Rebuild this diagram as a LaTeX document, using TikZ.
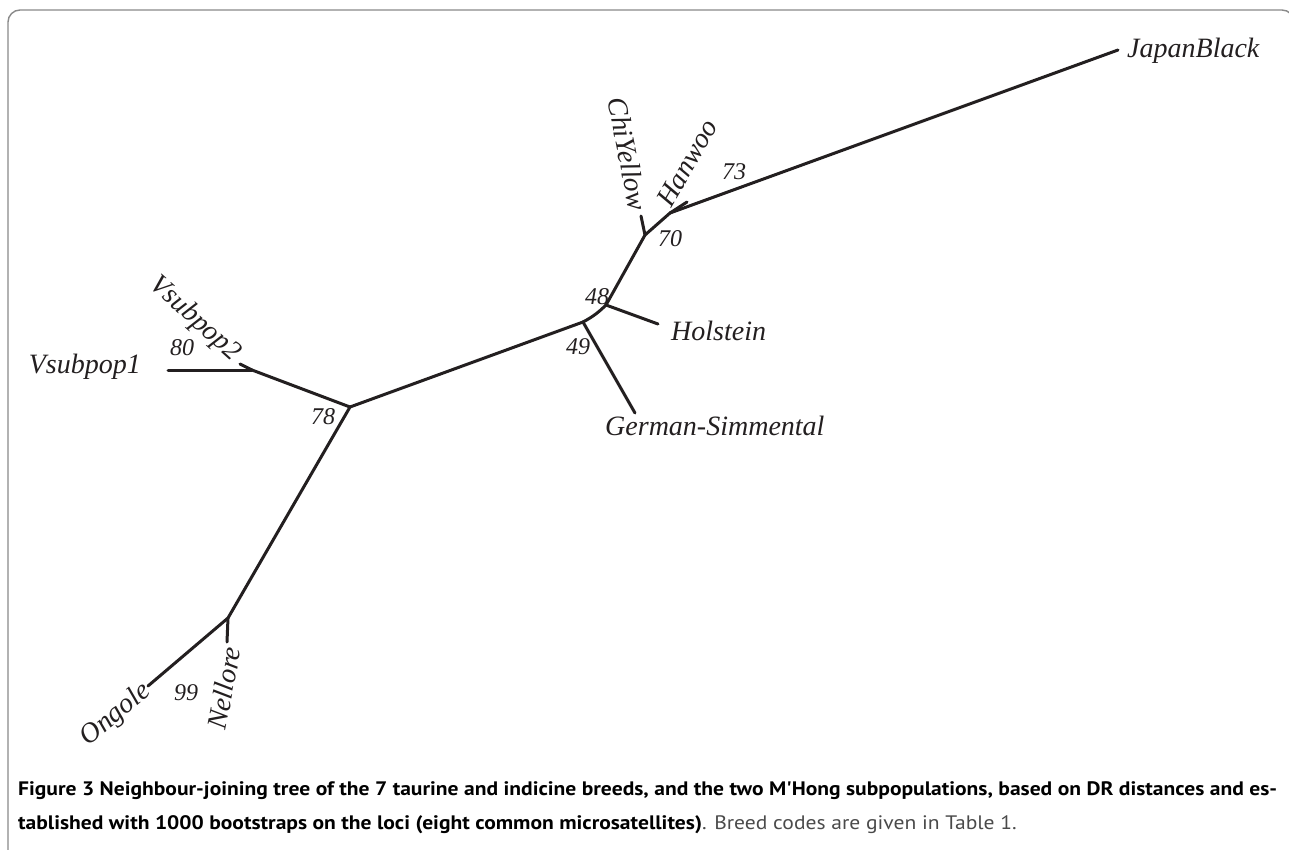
\documentclass[tikz,border=0pt]{standalone}
\usepackage{fontspec}
\usepackage{graphicx}
\setmainfont{Liberation Serif}
\newfontfamily\capfont{PT Sans}
\definecolor{ink}{HTML}{231F20}
\definecolor{framegray}{HTML}{8A8A8A}
\definecolor{capgray}{HTML}{4A4A4A}
\newlength\capw
\newcommand\captionlineone{Figure 3 Neighbour-joining tree of the 7 taurine and indicine breeds, and the two M'Hong subpopulations, based on DR distances and es-}
\begin{document}
\begin{tikzpicture}[x=1pt,y=-1pt,
  branch/.style={draw=ink,line width=3pt,line cap=round,line join=round},
  taxon/.style={inner sep=0pt,text=ink,font=\fontsize{28}{31}\selectfont\itshape},
  boot/.style={inner sep=0pt,text=ink,font=\fontsize{24}{26}\selectfont\itshape},
  capline/.style={inner sep=0pt,anchor=base west,font=\capfont\fontsize{19.5}{22}\selectfont}]
\useasboundingbox (0,0) rectangle (1289,849);
\fill[white] (0,0) rectangle (1289,849);
% frame
\draw[framegray,line width=1.4pt,rounded corners=12pt] (8,860) -- (8,10) -- (1294,10) -- (1294,860);

% internal nodes
\coordinate (H) at (670,213);
\coordinate (C) at (645,235);
\coordinate (D) at (606,305);
\coordinate (E) at (583,322);
\coordinate (F) at (350,407);
\coordinate (G) at (252,370);
\coordinate (I) at (228,618);
% leaf ends
\coordinate (jb) at (1118,50);
\coordinate (hw) at (687,202);
\coordinate (cy) at (641,216);
\coordinate (ho) at (658,324);
\coordinate (gs) at (635,413);
\coordinate (v1) at (168,370);
\coordinate (v2) at (240,364);
\coordinate (ne) at (227,642);
\coordinate (on) at (148,686);

\draw[branch] (H) -- (jb);
\draw[branch] (H) -- (hw);
\draw[branch] (H) -- (C);
\draw[branch] (C) -- (cy);
\draw[branch] (C) -- (D);
\draw[branch] (D) -- (ho);
\draw[branch] (D) to[bend left=8] (E);
\draw[branch] (E) -- (gs);
\draw[branch] (E) -- (F);
\draw[branch] (F) -- (G);
\draw[branch] (G) -- (v1);
\draw[branch] (G) -- (v2);
\draw[branch] (F) -- (I);
\draw[branch] (I) -- (ne);
\draw[branch] (I) -- (on);

% taxon labels
\node[taxon,anchor=west] (tJB) at (1127,51) {JapanBlack};
\node[taxon,rotate=60] (tHW) at (687,163) {Hanwoo};
\node[taxon,rotate=-79] (tCY) at (628,154) {ChiYellow};
\node[taxon,anchor=west] (tHO) at (671,331) {Holstein};
\node[taxon,anchor=west] (tGS) at (605,426) {German-Simmental};
\node[taxon,anchor=east] (tV1) at (141,367) {Vsubpop1};
\node[taxon,rotate=-42] (tV2) at (195,319) {Vsubpop2};
\node[taxon,rotate=40] (tON) at (116,715) {Ongole};
\node[taxon,rotate=79] (tNE) at (224,688) {Nellore};

% bootstrap values
\node[boot] (b73) at (734,172) {73};
\node[boot] (b70) at (670,239) {70};
\node[boot] (b48) at (597,297) {48};
\node[boot] (b49) at (578,347) {49};
\node[boot] (b80) at (182,348) {80};
\node[boot] (b78) at (323,417) {78};
\node[boot] (b99) at (186,693) {99};

% caption
\node[capline] (cap1) at (18,795) {\settowidth\capw{\bfseries\captionlineone}%
  \pgfmathsetmacro\capfac{1259/\capw}\global\let\capfacG\capfac
  \scalebox{\capfac}[1]{\bfseries\captionlineone}};
\node[capline] (cap2) at (18,829) {\scalebox{\capfacG}[1]{\bfseries tablished with 1000 bootstraps on the loci (eight common microsatellites)\mdseries\color{capgray}. Breed codes are given in Table 1.}};
\end{tikzpicture}
\end{document}
